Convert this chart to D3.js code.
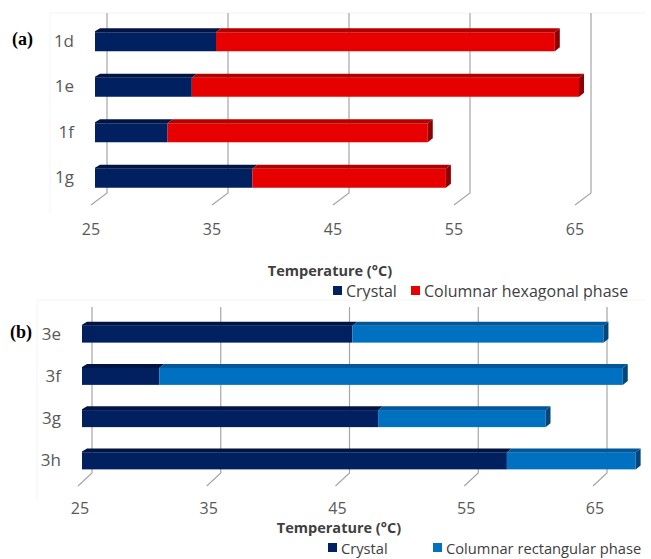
<!DOCTYPE html>
<html>
<head>
<meta charset="utf-8">
<script src="https://cdn.jsdelivr.net/npm/d3@7"></script>
<style>
  body { margin: 0; background: #fff; }
  svg { display: block; }
  text { font-family: "Open Sans", "Liberation Sans", sans-serif; }
  text.tag { font-family: "Liberation Serif", "DejaVu Serif", serif; }
</style>
</head>
<body>
<svg width="651" height="559"></svg>
<script>
// panel (a)
var catsA = ["1d", "1e", "1f", "1g"];
var crystalA = [35, 33, 31, 38];
var hexEndA = [63, 65, 52.5, 54];
// panel (b)
var catsB = ["3e", "3f", "3g", "3h"];
var crystalB = [46, 31, 48, 58];
var rectEndB = [65.5, 67, 61, 68];
var ticks = [25, 35, 45, 55, 65];

var svg = d3.select("svg");

// bar segment with a fake 3D look: front face, top face, right side on the last one
function bar3d(g, x0, x1, y, h, col, top, side, last, first) {
    var d = 5, e = 4;
    g.append("rect").attr("x", x0).attr("y", y).attr("width", x1 - x0).attr("height", h).attr("fill", col);
    var p = [[x0, y], [x1, y], [x1 + d, y - e], [x0 + d, y - e]];
    if (first) p = [[x0, y], [x1, y], [x1 + d, y - e], [x0 + d, y - e], [x0, y - 1]];
    g.append("polygon").attr("points", p.map(function(q) { return q.join(","); }).join(" ")).attr("fill", top);
    if (last) {
        var s = [[x1, y], [x1 + d, y - e], [x1 + d, y + h - e], [x1, y + h]];
        g.append("polygon").attr("points", s.map(function(q) { return q.join(","); }).join(" ")).attr("fill", side);
    }
}

function panel(cfg) {
    var g = svg.append("g");
    var x = d3.scaleLinear().domain([25, 65]).range(cfg.xr);
    var y = d3.scaleBand().domain(cfg.cats).range(cfg.yr);

    // faint chart frame
    g.append("path")
        .attr("d", "M" + cfg.frame[0] + "," + (cfg.frame[1] + 200) + "V" + cfg.frame[1] + "H" + 645)
        .attr("fill", "none").attr("stroke", "#f4f4f4");

    // gridlines on back wall + floor diagonal
    ticks.forEach(function(t) {
        var xb = x(t) + cfg.back;
        g.append("path")
            .attr("d", "M" + xb + "," + cfg.gTop + "V" + cfg.gBot + "L" + (xb + cfg.fdx) + "," + (cfg.gBot + cfg.fdy))
            .attr("fill", "none").attr("stroke", "#a6a6a6").attr("stroke-width", 1.2);
        g.append("text").attr("x", xb + cfg.lab).attr("y", cfg.tickY)
            .attr("text-anchor", "middle").attr("font-size", 16).attr("fill", "#595959").text(t);
    });

    cfg.cats.forEach(function(c, i) {
        var yc = y(c) + y.bandwidth() / 2;
        var top = yc - cfg.h / 2 + 4;
        var hh = cfg.h - 4;
        bar3d(g, x(25), x(cfg.first[i]), top, hh, "#002060", "#001545", null, false, true);
        bar3d(g, x(cfg.first[i]), x(cfg.second[i]), top, hh, cfg.col, cfg.topCol, cfg.sideCol, true, false);
        g.append("text").attr("x", cfg.labX).attr("y", yc + cfg.catDy)
            .attr("text-anchor", "end").attr("font-size", 17).attr("fill", "#595959").text(c);
    });

    g.append("text").attr("x", cfg.titleX).attr("y", cfg.titleY).attr("text-anchor", "middle")
        .attr("font-size", 14.5).attr("font-weight", "bold").attr("fill", "#404040").text("Temperature (°C)");

    // legend
    cfg.legend.forEach(function(it) {
        g.append("rect").attr("x", it.x).attr("y", cfg.legY - 5).attr("width", 9).attr("height", 9).attr("fill", it.col);
        g.append("text").attr("x", it.x + 13).attr("y", cfg.legY + 5.5).attr("font-size", cfg.legSize).attr("fill", "#404040").text(it.name);
    });

    g.append("text").attr("class", "tag").attr("x", cfg.tagX).attr("y", cfg.tagY)
        .attr("font-weight", "bold").attr("font-size", 18).attr("fill", "#000").text(cfg.tag);
}

panel({
    cats: catsA, first: crystalA, second: hexEndA,
    xr: [95, 579], yr: [17, 199], h: 23, back: 12,
    gTop: 13, gBot: 193, fdx: -16, fdy: 12, lab: -16, tickY: 235,
    col: "#e60000", topCol: "#b30000", sideCol: "#8c0000",
    labX: 74, catDy: 7, titleX: 330, titleY: 276,
    legY: 291, legSize: 16,
    legend: [{x: 333, col: "#002060", name: "Crystal"}, {x: 411, col: "#e60000", name: "Columnar hexagonal phase"}],
    frame: [50, 13], tag: "(a)", tagX: 12, tagY: 45
});

panel({
    cats: catsB, first: crystalB, second: rectEndB,
    xr: [82, 597], yr: [311, 480], h: 21, back: 10,
    gTop: 307, gBot: 473, fdx: -14, fdy: 13, lab: -12, tickY: 514,
    col: "#0070c0", topCol: "#005799", sideCol: "#00467a",
    labX: 61, catDy: 7.5, titleX: 339, titleY: 533,
    legY: 548, legSize: 14.7,
    legend: [{x: 328, col: "#002060", name: "Crystal"}, {x: 433, col: "#0070c0", name: "Columnar rectangular phase"}],
    frame: [37, 300], tag: "(b)", tagX: 10, tagY: 338
});
</script>
</body>
</html>
